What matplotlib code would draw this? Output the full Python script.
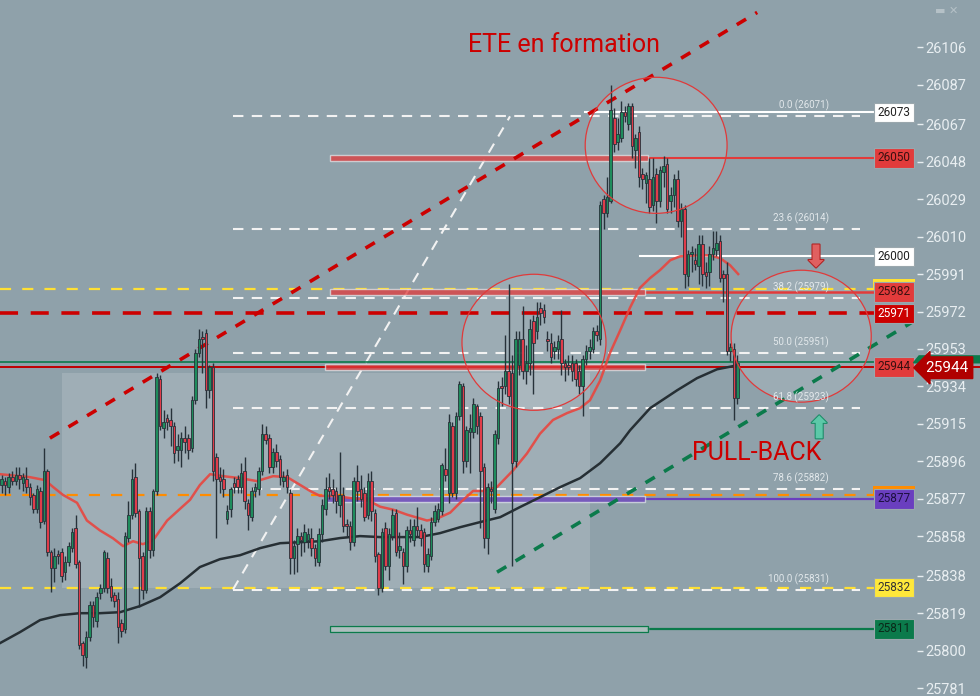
import matplotlib
matplotlib.use("Agg")
import matplotlib.pyplot as plt
import matplotlib.patheffects as pe
from matplotlib.patches import Rectangle, Ellipse

plt.rcParams['font.family'] = ['Roboto', 'DejaVu Sans']

# candles (open, high, low, close)
opens = [25884, 25886, 25883, 25888, 25886, 25889, 25885, 25887, 25883, 25879,
         25872, 25881, 25866, 25891, 25850, 25842, 25849, 25850, 25840, 25845,
         25852, 25862, 25845, 25804, 25797, 25807, 25823, 25815, 25829, 25832,
         25847, 25833, 25828, 25826, 25814, 25811, 25857, 25869, 25888, 25871,
         25848, 25831, 25871, 25851, 25881, 25938, 25913, 25918, 25917, 25914,
         25902, 25902, 25908, 25908, 25903, 25927, 25951, 25959, 25961, 25932,
         25944, 25898, 25888, 25887, 25867, 25872, 25885, 25887, 25883, 25891,
         25875, 25868, 25881, 25882, 25891, 25910, 25908, 25893, 25901, 25897,
         25886, 25889, 25880, 25847, 25854, 25858, 25855, 25856, 25857, 25852,
         25845, 25859, 25872, 25883, 25882, 25881, 25874, 25879, 25864, 25863,
         25855, 25886, 25882, 25880, 25869, 25886, 25870, 25849, 25832, 25862,
         25843, 25858, 25870, 25851, 25850, 25843, 25861, 25856, 25863, 25861,
         25860, 25843, 25848, 25865, 25867, 25871, 25892, 25880, 25914, 25880,
         25919, 25934, 25896, 25911, 25911, 25924, 25919, 25893, 25857, 25882,
         25872, 25908, 25934, 25934, 25942, 25941, 25896, 25945, 25958, 25942,
         25946, 25967, 25962, 25974, 25973, 25958, 25956, 25952, 25953, 25958,
         25946, 25945, 25946, 25946, 25942, 25934, 25948, 25952, 25953, 25962,
         25958, 26029, 26022, 26028, 26070, 26058, 26060, 26073, 26067, 26076,
         26054, 26063, 26042, 26037, 26039, 26026, 26042, 26028, 26043, 26047,
         26028, 26031, 26039, 26018, 26024, 25990, 26001, 25998, 25995, 26006,
         25992, 25992, 26001, 26003, 26008, 25991, 25991, 25952, 25953, 25928]
highs = [25889, 25888, 25890, 25891, 25893, 25893, 25890, 25893, 25885, 25880,
         25884, 25883, 25903, 25892, 25851, 25852, 25851, 25852, 25848, 25855,
         25862, 25869, 25846, 25805, 25810, 25825, 25825, 25830, 25834, 25851,
         25850, 25837, 25830, 25830, 25816, 25860, 25876, 25892, 25895, 25872,
         25850, 25873, 25873, 25882, 25941, 25940, 25922, 25920, 25923, 25916,
         25910, 25911, 25914, 25910, 25929, 25953, 25963, 25962, 25963, 25945,
         25946, 25900, 25893, 25892, 25874, 25883, 25888, 25889, 25895, 25898,
         25877, 25883, 25885, 25893, 25915, 25914, 25910, 25903, 25905, 25899,
         25891, 25892, 25882, 25856, 25862, 25860, 25864, 25862, 25862, 25854,
         25862, 25877, 25888, 25890, 25887, 25883, 25901, 25883, 25867, 25866,
         25888, 25894, 25889, 25883, 25890, 25891, 25872, 25850, 25862, 25865,
         25862, 25872, 25872, 25860, 25852, 25863, 25867, 25867, 25873, 25864,
         25862, 25852, 25868, 25874, 25875, 25895, 25903, 25920, 25916, 25921,
         25937, 25936, 25914, 25920, 25928, 25925, 25921, 25895, 25885, 25886,
         25912, 25937, 25939, 25960, 25986, 25950, 25962, 25962, 25975, 25955,
         25968, 25970, 25977, 25977, 25976, 25962, 25961, 25957, 25960, 25973,
         25948, 25950, 25950, 25948, 25945, 25950, 25955, 25958, 25964, 25965,
         26028, 26031, 26040, 26087, 26075, 26070, 26079, 26076, 26078, 26078,
         26062, 26066, 26045, 26043, 26050, 26050, 26045, 26046, 26051, 26050,
         26035, 26042, 26044, 26027, 26026, 26003, 26005, 26004, 26011, 26011,
         25997, 26005, 26013, 26013, 26011, 25993, 25997, 25956, 25956, 25950]
lows = [25880, 25879, 25880, 25884, 25884, 25882, 25881, 25880, 25874, 25870,
        25870, 25862, 25864, 25848, 25830, 25835, 25844, 25835, 25836, 25843,
        25850, 25842, 25801, 25792, 25791, 25805, 25812, 25812, 25826, 25830,
        25829, 25825, 25822, 25804, 25807, 25809, 25855, 25867, 25868, 25822,
        25826, 25829, 25847, 25848, 25879, 25912, 25908, 25912, 25904, 25895,
        25896, 25893, 25900, 25897, 25901, 25925, 25949, 25941, 25923, 25928,
        25886, 25857, 25880, 25878, 25864, 25868, 25880, 25880, 25880, 25872,
        25861, 25866, 25878, 25879, 25889, 25905, 25890, 25890, 25893, 25884,
        25883, 25880, 25839, 25839, 25840, 25848, 25850, 25852, 25848, 25843,
        25843, 25855, 25869, 25877, 25875, 25870, 25868, 25860, 25858, 25851,
        25853, 25876, 25873, 25866, 25867, 25866, 25845, 25828, 25830, 25841,
        25836, 25856, 25848, 25847, 25834, 25840, 25855, 25853, 25858, 25853,
        25840, 25840, 25846, 25863, 25865, 25869, 25886, 25875, 25878, 25877,
        25917, 25890, 25893, 25890, 25908, 25910, 25862, 25852, 25849, 25875,
        25870, 25905, 25924, 25930, 25925, 25843, 25893, 25940, 25938, 25935,
        25940, 25930, 25958, 25965, 25966, 25952, 25946, 25948, 25948, 25940,
        25937, 25940, 25937, 25934, 25930, 25919, 25945, 25948, 25951, 25957,
        25955, 26014, 26020, 26027, 26053, 26054, 26058, 26068, 26064, 26050,
        26045, 26035, 26034, 26027, 26022, 26023, 26017, 26025, 26035, 26022,
        26022, 26025, 26015, 26010, 25984, 25985, 25992, 25993, 25986, 25985,
        25984, 25985, 25998, 26000, 25987, 25977, 25950, 25947, 25917, 25925]
closes = [25887, 25884, 25888, 25886, 25889, 25887, 25888, 25883, 25878, 25872,
          25882, 25865, 25891, 25850, 25842, 25848, 25848, 25838, 25845, 25853,
          25860, 25844, 25803, 25798, 25807, 25823, 25817, 25827, 25832, 25850,
          25832, 25827, 25825, 25812, 25810, 25858, 25869, 25887, 25870, 25847,
          25831, 25871, 25851, 25881, 25939, 25914, 25916, 25916, 25914, 25900,
          25904, 25908, 25906, 25902, 25927, 25951, 25958, 25958, 25932, 25944,
          25891, 25887, 25886, 25882, 25871, 25882, 25883, 25883, 25890, 25876,
          25869, 25881, 25883, 25891, 25910, 25907, 25893, 25901, 25896, 25888,
          25888, 25883, 25847, 25853, 25858, 25856, 25860, 25859, 25852, 25847,
          25859, 25874, 25882, 25881, 25879, 25876, 25879, 25863, 25863, 25855,
          25886, 25881, 25877, 25868, 25886, 25871, 25848, 25832, 25860, 25843,
          25859, 25869, 25850, 25853, 25843, 25861, 25859, 25863, 25861, 25857,
          25844, 25849, 25865, 25871, 25872, 25894, 25889, 25916, 25880, 25919,
          25935, 25896, 25912, 25913, 25925, 25914, 25891, 25857, 25883, 25881,
          25910, 25933, 25933, 25942, 25929, 25895, 25958, 25958, 25942, 25946,
          25963, 25956, 25969, 25971, 25969, 25957, 25949, 25954, 25957, 25946,
          25944, 25944, 25942, 25938, 25934, 25948, 25952, 25954, 25962, 25960,
          26026, 26022, 26030, 26074, 26057, 26062, 26073, 26071, 26076, 26056,
          26060, 26040, 26039, 26041, 26025, 26040, 26028, 26044, 26046, 26024,
          26031, 26039, 26018, 26024, 25991, 26001, 26002, 25996, 26006, 25991,
          25990, 26001, 26004, 26007, 25989, 25989, 25952, 25954, 25928, 25946]

# moving averages sampled along the chart (position in candles, price)
ma_fast_x = [-0.5, 5.2, 8.0, 12.3, 14.6, 17.4, 21.4, 24.2, 27.9, 31.6, 34.5, 37.3,
             40.1, 43.0, 47.0, 50.7, 53.5, 56.3, 59.2, 62.9, 67.7, 72.5, 77.1, 81.1,
             83.9, 87.6, 90.4, 94.1, 98.9, 103.8, 107.5, 111.2, 115.1, 120.8, 123.7,
             127.4, 130.2, 133.9, 136.7, 140.7, 145.3, 149.2, 152.9, 156.6, 160.6,
             164.3, 167.1, 170.0, 172.8, 175.7, 178.5, 181.3, 184.2, 187.0, 189.9,
             192.7, 198.4, 201.2, 204.1, 206.9, 209.2]
ma_fast = [25889.5, 25888.5, 25888, 25886.5, 25883, 25879, 25875, 25866, 25861,
           25857, 25853, 25855.5, 25854, 25856, 25866, 25872, 25876.5, 25884,
           25889.5, 25888.5, 25887.5, 25886, 25888.5, 25888, 25885, 25881, 25878.5,
           25878.5, 25877.5, 25876.5, 25873, 25871.5, 25869, 25866, 25867, 25870,
           25875, 25881, 25881, 25883, 25891.5, 25900, 25910, 25917, 25920.5, 25923,
           25927, 25937, 25951, 25962.5, 25974, 25984, 25989, 25993, 25998, 26000,
           26000.5, 26000.5, 25999, 25995.5, 25991]
ma_slow_x = [-0.5, 5.2, 10.9, 16.6, 22.2, 27.9, 33.6, 39.3, 45.0, 50.7, 56.3, 62.0,
             67.7, 73.4, 79.1, 84.8, 90.4, 96.1, 101.8, 107.5, 113.2, 118.8, 124.5,
             130.2, 135.9, 141.6, 147.2, 152.9, 158.6, 164.3, 170.0, 175.7, 178.5,
             184.2, 191.9, 197.5, 203.2, 209.2]
ma_slow = [25803.8, 25809.4, 25815.5, 25818.0, 25819.0, 25819.0, 25819.5, 25822.6,
           25827.1, 25834.2, 25842.4, 25846.4, 25848.4, 25852.0, 25854.5, 25855.0,
           25855.5, 25857.1, 25858.1, 25857.6, 25857.6, 25857.6, 25859.6, 25862.6,
           25865.2, 25867.7, 25872.8, 25877.8, 25882.9, 25887.5, 25895.1, 25905.2,
           25911.8, 25923.0, 25932.1, 25938.2, 25942.7, 25944.8]

fib_levels = [26071, 26014, 25979, 25951, 25923, 25882, 25831]
fib_names = ["0.0", "23.6", "38.2", "50.0", "61.8", "78.6", "100.0"]

yticks = [26106, 26087, 26067, 26048, 26029, 26010, 25991, 25972, 25953, 25934,
          25915, 25896, 25877, 25858, 25838, 25819, 25800, 25781]

# price tags on the right: value, face colour, text colour
tags = [(26073, 'white', '#222222'), (26050, '#e23b3b', '#3a1010'),
        (26000, 'white', '#222222'), (25982, '#e23b3b', '#3a1010'),
        (25971, '#cc0000', 'white'), (25944, '#e23b3b', '#3a1010'),
        (25877, '#6a3fbf', '#1d1040'), (25832, '#ffe83a', '#333333'),
        (25811, '#0b7a4b', '#0a2a1a')]
# tags hidden behind others, only a strip shows
hidden_tags = [(25985.5, '#ffe033'), (25880.5, '#ff8c00')]

bg = '#8fa1aa'
fig = plt.figure(figsize=(9.8, 6.96), dpi=100, facecolor=bg)
ax = fig.add_axes([0, 0, 917 / 980, 1])
ax.set_facecolor(bg)
ax.set_xlim(-0.48, 260.0)
ax.set_ylim(25777, 26130)
for s in ax.spines.values():
    s.set_visible(False)
ax.set_xticks([])
ax.yaxis.tick_right()
ax.set_yticks(yticks)
ax.set_yticklabels([str(v) for v in yticks])
ax.tick_params(axis='y', direction='out', length=4, width=1, colors='#e8eef1',
               labelsize=10.5, pad=2)

# shaded box and circles
ax.add_patch(Rectangle((17.1, 25832), 150.0, 108.7, fc='white', alpha=0.15, ec='none', zorder=1))
for cx, cy, w, h in [(185.9, 26056.3, 40.3, 69), (151.2, 25956.4, 40.9, 69), (227.1, 25959.5, 39.8, 66.9)]:
    ax.add_patch(Ellipse((cx, cy), w, h, fc='white', alpha=0.12, ec='none', zorder=1))
    ax.add_patch(Ellipse((cx, cy), w, h, fc='none', ec='#e03a3a', lw=0.9, zorder=6))

# horizontal levels
ax.axhline(25983.3, xmax=248.1 / 260, color='#ffe033', lw=1.6, ls=(0, (5, 5)), zorder=2)
ax.axhline(25832, xmax=248.1 / 260, color='#ffe033', lw=1.6, ls=(0, (5, 5)), zorder=2)
ax.axhline(25879, xmax=248.1 / 260, color='#ff8c00', lw=1.6, ls=(0, (5, 5)), zorder=2)
ax.axhline(25971, xmax=248.1 / 260, color='#cc0000', lw=2.6, ls=(0, (5, 3.5)), zorder=2)
for lv, nm in zip(fib_levels, fib_names):
    ax.plot([65.7, 243.8], [lv, lv], color='#f2f2f2', lw=1.5, ls=(0, (5, 4)), zorder=3)
    ax.text(235, lv + 2.5, f"{nm} ({lv})", ha='right', va='bottom', fontsize=7,
            color='#e2e8eb', zorder=7)
ax.plot([65.7, 144.4], [25831, 26071], color='#f2f2f2', lw=1.5, ls=(0, (5, 4)), zorder=3)

ax.plot([165.7, 248.1], [26073, 26073], color='white', lw=1.5, zorder=3)
ax.plot([181.3, 248.1], [26000, 26000], color='white', lw=1.5, zorder=3)
ax.plot([183.6, 248.1], [26050, 26050], color='#e23b3b', lw=1.5, zorder=3)
ax.plot([182.8, 248.1], [25982, 25982], color='#e23b3b', lw=1.8, zorder=3)
ax.plot([182.8, 248.1], [25877, 25877], color='#6a3fbf', lw=1.6, zorder=3)
ax.plot([183.6, 248.1], [25811, 25811], color='#0b7a4b', lw=1.6, zorder=3)
ax.plot([-1, 278], [25946.5, 25946.5], color='#0b7a4b', lw=1.2, zorder=3, clip_on=False)
ax.plot([-1, 278], [25944, 25944], color='#c00000', lw=1.4, zorder=3, clip_on=False)

# zone bands
bands = [(93.3, 90.3, 26050, '#e23b3b'), (93.3, 89.5, 25982, '#e23b3b'),
         (91.9, 90.9, 25944, '#e23b3b'), (91.9, 90.9, 25877, '#6a3fbf'),
         (93.3, 90.3, 25811, '#b9c9c6')]
for x0, w, lv, c in bands:
    ax.add_patch(Rectangle((x0, lv - 1.6), w, 3.2, fc=c, alpha=0.75,
                           ec='#dfe6e9', lw=1.0, zorder=3))
ax.add_patch(Rectangle((93.3, 25811 - 1.6), 90.3, 3.2, fc='none', ec='#0b7a4b', lw=1.0, zorder=3))

# trend lines
ax.plot([13.7, 214.6], [25907.8, 26123.7], color='#cc0000', lw=2.6, ls=(0, (3, 3)), zorder=4)
ax.plot([140.7, 258.6], [25839.8, 25966.6], color='#0b7a4b', lw=2.6, ls=(0, (3, 3)), zorder=4)

# moving averages
ax.plot(ma_slow_x, ma_slow, color='#262f34', lw=1.8, zorder=4)
ax.plot(ma_fast_x, ma_fast, color='#e8463f', lw=1.8, alpha=0.9, zorder=4)

# candles
xs = list(range(len(closes)))
ax.vlines(xs, lows, highs, color='#27323a', lw=1.0, zorder=5)
bottoms = [min(o, c) for o, c in zip(opens, closes)]
heights = [max(abs(c - o), 0.7) for o, c in zip(opens, closes)]
cols = ['#1e8c5c' if c >= o else '#e03c4a' for o, c in zip(opens, closes)]
ax.bar(xs, heights, bottom=bottoms, width=0.72, color=cols, edgecolor='#27323a',
       linewidth=0.6, zorder=5)

# price tags
for v, c in hidden_tags:
    ax.add_patch(Rectangle((247.6, v - 1.5), 11.9, 4.5, fc=c, ec='none', zorder=7,
                           clip_on=False))
for v, fc, tc in tags:
    ax.text(253.5, v, str(v), ha='center', va='center', fontsize=8.5, color=tc,
            zorder=8, clip_on=False,
            bbox=dict(boxstyle='square,pad=0.28', fc=fc, ec='#9aa7ad', lw=0.8))
ax.fill([259.0, 260.6, 278.5, 278.5], [25946.0, 25949.5, 25949.5, 25946.0],
        color='#0b7a4b', zorder=8, clip_on=False)
ax.text(268.6, 25943.5, '25944', ha='center', va='center', fontsize=11, color='white',
        zorder=9, clip_on=False,
        bbox=dict(boxstyle='larrow,pad=0.25', fc='#b00000', ec='#b00000'))

# annotations
ax.text(159.8, 26107, 'ETE en formation', ha='center', va='center', fontsize=18,
        color='#cc0000', zorder=9)
ax.text(214.6, 25900, 'PULL-BACK', ha='center', va='center', fontsize=18,
        color='#cc0000', zorder=9)
ax.text(231.3, 25999, '⬇', ha='center', va='center', fontsize=22, color='#e06060',
        family='DejaVu Sans', zorder=9,
        path_effects=[pe.withStroke(linewidth=1.5, foreground='#b02020')])
ax.text(232.2, 25912, '⬆', ha='center', va='center', fontsize=22, color='#5cc8a8',
        family='DejaVu Sans', zorder=9,
        path_effects=[pe.withStroke(linewidth=1.5, foreground='#1a8a66')])
fig.text(0.978, 0.992, '▬ ✕', ha='right', va='top', fontsize=8, color='#b5c1c7',
         family='DejaVu Sans')

fig.savefig('out.png', dpi=100, facecolor=bg)
